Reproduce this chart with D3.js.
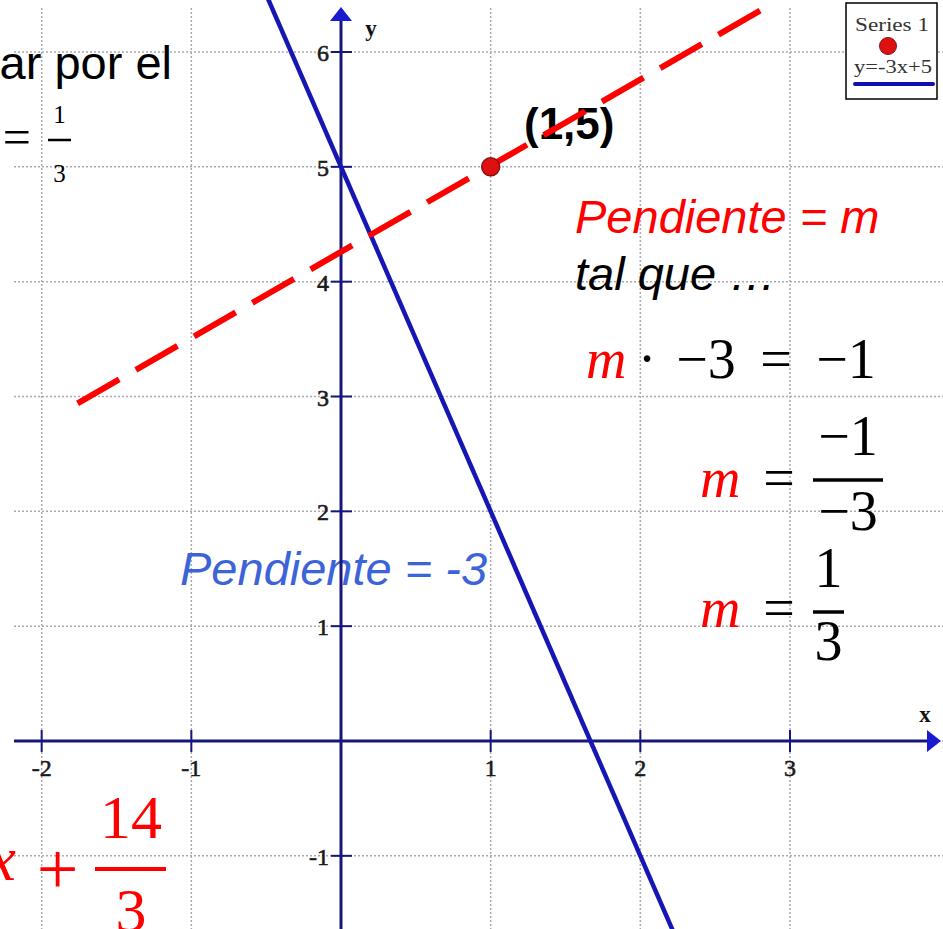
<!DOCTYPE html>
<html>
<head>
<meta charset="utf-8">
<script src="https://cdn.jsdelivr.net/npm/d3@7"></script>
<style>
  html, body { margin: 0; padding: 0; background: #fff; }
  svg { display: block; }
</style>
</head>
<body>
<svg id="chart" width="943" height="929"></svg>
<script>
// Tick values on each axis
const xTicks = [-2, -1, 1, 2, 3];
const yTicks = [-1, 1, 2, 3, 4, 5, 6];
const xGrid = [-2, -1, 0, 1, 2, 3];
const yGrid = [-1, 0, 1, 2, 3, 4, 5, 6];

// Series 1: the given point
const pointData = [{ x: 1, y: 5 }];
// y = -3x + 5, drawn across the visible window
const blueLine = [{ x: -0.5, y: 6.5 }, { x: 2.3, y: -1.9 }];
// perpendicular through (1,5), as sketched
const redLine = [{ x: -1.76, y: 2.94 }, { x: 2.80, y: 6.36 }];

const W = 943, H = 929;
const svg = d3.select("#chart");

const x = d3.scaleLinear().domain([0, 3]).range([341, 790]);
const y = d3.scaleLinear().domain([0, 6]).range([741, 52]);

const navy = "#17177a";
const serif = "'Liberation Serif', 'Times New Roman', serif";
const sans = "'Liberation Sans', Arial, sans-serif";

svg.append("defs").append("clipPath").attr("id", "view")
  .append("rect").attr("x", 0).attr("y", 0).attr("width", W).attr("height", H);

// dotted grid
const grid = svg.append("g").attr("stroke", "#a9a9b4").attr("stroke-width", 1.5)
  .attr("stroke-dasharray", "2,2");
grid.selectAll("line.v").data(xGrid).join("line").attr("class", "v")
  .attr("x1", d => x(d)).attr("x2", d => x(d)).attr("y1", 8).attr("y2", H);
grid.selectAll("line.h").data(yGrid).join("line").attr("class", "h")
  .attr("x1", 14).attr("x2", W).attr("y1", d => y(d)).attr("y2", d => y(d));

// annotation texts (sit under the axes and lines)
const ann = svg.append("g");
function t(xp, yp, str, opts) {
  const el = ann.append("text").attr("x", xp).attr("y", yp).text(str)
    .attr("font-family", opts.family || sans).attr("font-size", opts.size || 47)
    .attr("fill", opts.fill || "#000").attr("text-anchor", opts.anchor || "start");
  if (opts.italic) el.attr("font-style", "italic");
  if (opts.bold) el.attr("font-weight", "bold");
  return el;
}
function bar(x1, x2, yp, color, w) {
  ann.append("line").attr("x1", x1).attr("x2", x2).attr("y1", yp).attr("y2", yp)
    .attr("stroke", color).attr("stroke-width", w || 3);
}

// fragments at the left edge
t(172, 79, "ar por el", { anchor: "end" });
t(31, 154, "=", { family: serif, size: 50, anchor: "end" });
t(59.5, 123, "1", { family: serif, size: 25, anchor: "middle" });
bar(48, 71, 140, "#000", 2.5);
t(59.5, 182, "3", { family: serif, size: 25, anchor: "middle" });

t(16, 880, "x", { family: serif, size: 64, italic: true, fill: "#ff0000", anchor: "end" });
t(57.5, 894, "+", { family: serif, size: 74, fill: "#ff0000", anchor: "middle" });
t(131, 838, "14", { family: serif, size: 62, fill: "#ff0000", anchor: "middle" });
bar(95, 166, 869, "#ff0000", 4);
t(131, 931, "3", { family: serif, size: 62, fill: "#ff0000", anchor: "middle" });

// point label
t(524, 139, "(1,5)", { bold: true, size: 44 });

// slope notes
t(180, 585, "Pendiente = -3", { italic: true, fill: "#3c64d8" });
t(575, 233, "Pendiente = m", { italic: true, fill: "#ff0000" });
t(575, 290, "tal que \u2026", { italic: true });

// m · −3 = −1
t(586, 378, "m", { family: serif, size: 56, italic: true, fill: "#ff0000" });
t(647, 378, "\u00b7", { family: serif, size: 56, anchor: "middle" });
t(706, 378, "\u22123", { family: serif, size: 56, anchor: "middle" });
t(776, 378, "=", { family: serif, size: 56, anchor: "middle" });
t(846, 378, "\u22121", { family: serif, size: 56, anchor: "middle" });

// m = −1 / −3
t(700, 497, "m", { family: serif, size: 56, italic: true, fill: "#ff0000" });
t(779, 497, "=", { family: serif, size: 56, anchor: "middle" });
t(848, 455, "\u22121", { family: serif, size: 56, anchor: "middle" });
bar(813, 883, 480, "#000", 3.5);
t(848, 530, "\u22123", { family: serif, size: 56, anchor: "middle" });

// m = 1 / 3
t(700, 627, "m", { family: serif, size: 56, italic: true, fill: "#ff0000" });
t(779, 627, "=", { family: serif, size: 56, anchor: "middle" });
t(828.5, 587, "1", { family: serif, size: 56, anchor: "middle" });
bar(813, 844, 612, "#000", 3.5);
t(828.5, 660, "3", { family: serif, size: 56, anchor: "middle" });

// axes
const axes = svg.append("g");
axes.append("line").attr("x1", 14).attr("x2", 930).attr("y1", y(0)).attr("y2", y(0))
  .attr("stroke", navy).attr("stroke-width", 3);
axes.append("line").attr("x1", x(0)).attr("x2", x(0)).attr("y1", H).attr("y2", 18)
  .attr("stroke", navy).attr("stroke-width", 3);
axes.append("path").attr("d", `M941,${y(0)} L927,${y(0) - 11} L927,${y(0) + 11} Z`)
  .attr("fill", "#1a1ad0");
axes.append("path").attr("d", `M${x(0)},7 L${x(0) - 11},21 L${x(0) + 11},21 Z`)
  .attr("fill", "#1a1ad0");

// ticks
axes.selectAll("line.xt").data(xTicks).join("line").attr("class", "xt")
  .attr("x1", d => x(d)).attr("x2", d => x(d)).attr("y1", y(0) - 11).attr("y2", y(0) + 11)
  .attr("stroke", navy).attr("stroke-width", 2);
axes.selectAll("line.yt").data(yTicks).join("line").attr("class", "yt")
  .attr("x1", x(0) - 10).attr("x2", x(0) + 11).attr("y1", d => y(d)).attr("y2", d => y(d))
  .attr("stroke", navy).attr("stroke-width", 2);

// tick labels
axes.selectAll("text.xl").data(xTicks).join("text").attr("class", "xl")
  .attr("x", d => x(d)).attr("y", y(0) + 35).attr("text-anchor", "middle")
  .attr("font-family", serif).attr("font-size", 24).attr("fill", "#1a1a1a")
  .attr("stroke", "#1a1a1a").attr("stroke-width", 0.6)
  .text(d => d);
axes.selectAll("text.yl").data(yTicks).join("text").attr("class", "yl")
  .attr("x", x(0) - 12).attr("y", d => y(d) + 9).attr("text-anchor", "end")
  .attr("font-family", serif).attr("font-size", 24).attr("fill", "#1a1a1a")
  .attr("stroke", "#1a1a1a").attr("stroke-width", 0.6)
  .text(d => d);

axes.append("text").attr("x", 925).attr("y", 722).attr("text-anchor", "middle")
  .attr("font-family", serif).attr("font-weight", "bold").attr("font-size", 23)
  .attr("fill", "#111").text("x");
axes.append("text").attr("x", 371).attr("y", 36).attr("text-anchor", "middle")
  .attr("font-family", serif).attr("font-weight", "bold").attr("font-size", 23)
  .attr("fill", "#111").text("y");

// lines
const lineGen = d3.line().x(d => x(d.x)).y(d => y(d.y));
const plot = svg.append("g").attr("clip-path", "url(#view)");
plot.append("path").datum(blueLine).attr("d", lineGen)
  .attr("fill", "none").attr("stroke", "#1616b4").attr("stroke-width", 4.5);

const redPath = plot.append("path").datum(redLine).attr("d", lineGen)
  .attr("fill", "none").attr("stroke", "#ff0000").attr("stroke-width", 6);
// spread the dashes so the line starts and ends on a dash
const dashLen = 48, nDash = 12;
const total = redPath.node().getTotalLength();
const gap = (total - nDash * dashLen) / (nDash - 1);
redPath.attr("stroke-dasharray", `${dashLen},${gap}`);

plot.selectAll("circle.pt").data(pointData).join("circle").attr("class", "pt")
  .attr("cx", d => x(d.x)).attr("cy", d => y(d.y)).attr("r", 9)
  .attr("fill", "#e01010").attr("stroke", "#8a1010").attr("stroke-width", 1.5);

// legend
const leg = svg.append("g");
leg.append("rect").attr("x", 846).attr("y", 3).attr("width", 91).attr("height", 96)
  .attr("fill", "#fff").attr("stroke", "#000").attr("stroke-width", 1.5);
leg.append("text").attr("x", 855).attr("y", 31).attr("font-family", serif)
  .attr("font-size", 18).attr("fill", "#333")
  .attr("textLength", 74).attr("lengthAdjust", "spacingAndGlyphs").text("Series 1");
leg.append("circle").attr("cx", 888).attr("cy", 46).attr("r", 8.5)
  .attr("fill", "#e01010").attr("stroke", "#8a1010").attr("stroke-width", 1);
leg.append("text").attr("x", 854).attr("y", 73).attr("font-family", serif)
  .attr("font-size", 18).attr("fill", "#333")
  .attr("textLength", 78).attr("lengthAdjust", "spacingAndGlyphs").text("y=-3x+5");
leg.append("line").attr("x1", 855).attr("x2", 933).attr("y1", 84).attr("y2", 84)
  .attr("stroke", "#1010b0").attr("stroke-width", 4).attr("stroke-linecap", "round");
</script>
</body>
</html>
